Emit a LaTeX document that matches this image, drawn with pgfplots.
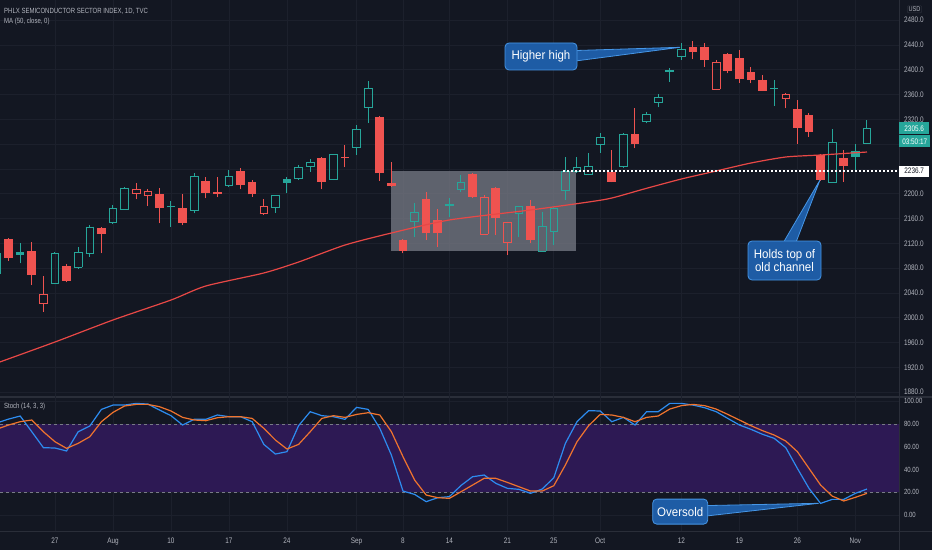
\documentclass[border=0pt]{standalone}
\usepackage{pgfplots}
\pgfplotsset{compat=1.18}
\usepackage{pgfplotstable}
\usepackage{fontspec}
\setmainfont{Liberation Sans}
\newfontfamily\tvfont{Liberation Sans}[FakeStretch=0.8]
\newfontfamily\callfont{Liberation Sans}[FakeStretch=0.92]

\definecolor{bg}{RGB}{19,23,34}
\definecolor{gridc}{RGB}{28,32,44}
\definecolor{sep}{RGB}{42,46,57}
\definecolor{upc}{RGB}{38,166,154}
\definecolor{dnc}{RGB}{239,83,80}
\definecolor{mac}{RGB}{232,72,70}
\definecolor{txt}{RGB}{178,181,190}
\definecolor{kc}{RGB}{45,140,240}
\definecolor{dc}{RGB}{240,116,46}
\definecolor{band}{RGB}{45,25,84}
\definecolor{boxg}{RGB}{124,127,138}
\definecolor{hlc}{RGB}{120,123,134}
\definecolor{callfill}{RGB}{30,92,165}
\definecolor{calldraw}{RGB}{70,150,230}

% hollow, close above previous close (green)
\pgfplotstableread{
i o h l c
-5 2072.3 2110.0 2068.0 2104.5
0 2056.1 2106.5 2054.0 2104.5
2 2081.9 2114.2 2078.7 2106.1
3 2104.5 2149.0 2098.6 2146.5
5 2154.5 2181.9 2151.3 2177.1
6 2175.5 2211.0 2174.0 2209.4
12 2172.8 2233.1 2168.6 2227.6
15 2213.7 2238.4 2211.5 2227.6
19 2177.6 2198.1 2169.5 2198.1
21 2225.0 2246.5 2222.3 2242.7
22 2243.7 2256.1 2235.7 2250.8
24 2223.9 2265.0 2222.0 2263.7
26 2275.0 2311.0 2262.6 2304.5
27 2339.5 2382.0 2314.7 2369.5
31 2156.1 2184.7 2130.8 2169.5
35 2207.3 2230.3 2203.4 2218.6
40 2168.6 2180.0 2130.8 2179.2
42 2107.8 2171.1 2106.5 2147.0
43 2140.0 2179.2 2117.4 2176.6
44 2206.1 2259.9 2190.0 2236.8
45 2235.7 2259.9 2234.5 2242.1
46 2231.9 2265.3 2230.3 2243.7
47 2279.8 2297.6 2266.3 2291.1
49 2243.7 2298.0 2242.0 2296.0
51 2316.3 2332.4 2313.7 2328.2
52 2347.0 2361.0 2339.5 2355.6
54 2421.1 2443.7 2415.8 2433.6
67 2218.6 2304.0 2217.5 2283.1
70 2281.5 2319.0 2280.5 2305.6
}\hu

% filled, green
\pgfplotstableread{
i o h l c
-3 2105.7 2120.2 2087.9 2101.3
10 2180.8 2188.4 2146.9 2178.2
20 2223.9 2227.6 2200.8 2217.9
34 2183.6 2192.7 2163.1 2180.8
53 2399.7 2403.4 2380.8 2397.0
62 2371.1 2383.6 2341.6 2369.0
69 2269.0 2280.3 2238.4 2259.9
}\fu

% hollow, red
\pgfplotstableread{
i o h l c
-1 2023.4 2067.4 2009.9 2037.9
7 2200.8 2216.9 2191.1 2207.8
8 2198.1 2207.8 2180.3 2204.5
18 2167.9 2191.6 2167.0 2180.3
37 2135.2 2198.1 2133.6 2193.7
39 2121.1 2155.0 2101.3 2154.0
57 2369.0 2415.8 2367.4 2412.1
63 2354.0 2362.1 2337.9 2360.5
}\hd

% filled, red
\pgfplotstableread{
i o h l c
-4 2127.1 2129.0 2092.0 2096.5
-2 2107.8 2122.8 2052.9 2069.0
1 2083.6 2086.0 2057.0 2059.4
4 2144.9 2147.0 2104.0 2135.2
9 2199.7 2208.9 2152.4 2177.6
11 2177.1 2199.7 2149.2 2153.4
13 2221.1 2227.6 2192.8 2201.8
14 2203.4 2227.6 2194.4 2199.7
16 2237.3 2241.1 2207.3 2213.7
17 2219.5 2222.3 2195.4 2199.2
23 2257.3 2259.4 2207.3 2219.5
25 2259.9 2278.7 2242.7 2257.8
28 2324.4 2325.5 2221.1 2233.0
29 2217.4 2251.8 2211.5 2212.6
30 2125.5 2127.0 2104.0 2107.8
32 2191.6 2203.4 2125.5 2136.3
33 2157.8 2175.5 2114.7 2136.3
36 2231.5 2233.0 2194.0 2195.4
38 2209.9 2211.5 2133.6 2160.5
41 2180.8 2190.0 2120.2 2125.5
48 2235.7 2270.7 2218.5 2219.5
50 2296.0 2337.9 2273.4 2280.3
55 2437.3 2447.0 2416.9 2429.2
56 2437.3 2443.7 2405.0 2415.8
58 2425.0 2426.6 2394.4 2398.6
59 2418.5 2432.0 2379.2 2384.7
60 2396.9 2405.0 2378.2 2383.6
61 2383.6 2391.6 2365.5 2366.3
64 2336.8 2351.3 2280.3 2306.6
65 2327.1 2329.8 2292.1 2300.2
66 2262.6 2264.0 2221.0 2222.3
68 2257.3 2270.7 2219.5 2245.3
}\fd

\pgfplotstableread{
i ma
-5 1927.1
0 1961.0
5 1996.5
10 2028.7
13 2051.3
18 2072.3
21 2090.0
25 2117.4
29 2136.8
34 2157.8
41 2173.9
46 2186.8
48 2193.2
51 2208.9
54 2223.9
57 2236.8
60 2249.7
63 2259.4
66 2262.6
68 2265.0
70 2267.4
}\ma

\pgfplotstableread{
i k d
-5 81.0 75.5
-4 84.3 79.1
-3 87.0 82.0
-2 73.2 83.5
-1 59.2 73.2
0 58.9 64.4
1 56.3 58.6
2 73.2 63.0
3 78.2 68.8
4 92.8 82.0
5 96.6 90.2
6 96.6 95.8
7 98.1 97.2
8 97.5 97.2
9 92.3 95.2
10 87.3 91.4
11 79.1 85.8
12 84.1 83.5
13 84.1 82.9
14 87.9 85.5
15 86.4 86.4
16 86.4 86.4
17 82.0 84.9
18 62.1 76.2
19 53.6 65.9
20 55.7 58.0
21 78.5 62.1
22 90.8 73.2
23 87.3 84.9
24 86.4 87.3
25 84.1 85.8
26 94.6 88.4
27 92.8 89.9
28 76.2 87.9
29 52.7 73.2
30 21.1 51.3
31 18.2 30.8
32 11.8 17.6
33 15.3 15.3
34 16.2 14.7
35 26.0 20.5
36 33.7 26.4
37 35.2 32.3
38 27.9 32.3
39 23.5 28.7
40 22.6 24.9
41 19.1 21.1
42 22.9 21.1
43 32.8 25.8
44 63.0 44.0
45 82.0 64.4
46 91.7 78.5
47 91.4 88.4
48 82.0 87.9
49 85.8 85.8
50 79.1 82.0
51 90.8 85.8
52 90.8 87.0
53 98.1 93.1
54 98.1 96.1
55 96.6 97.2
56 94.3 96.1
57 90.8 93.1
58 84.9 88.4
59 79.1 83.5
60 75.3 78.5
61 70.9 74.1
62 67.4 70.3
63 59.2 65.0
64 41.0 55.7
65 23.5 41.0
66 10.3 26.4
67 13.8 16.7
68 13.8 12.4
69 19.1 15.6
70 22.9 19.1
}\stoch

\pgfplotsset{
  eb/.style 2 args={draw=none, mark=none,
    error bars/y dir=plus, error bars/y explicit, error bars/error mark=none,
    error bars/error bar style={draw=#1, line width=#2, solid}},
  ebs/.style={draw=none, mark=none,
    error bars/y dir=plus, error bars/y explicit, error bars/error mark=none,
    error bars/error bar style={draw=#1, line width=0.9pt, solid, line cap=rect}},
  ebx/.style={draw=none, mark=none,
    error bars/x dir=both, error bars/x fixed=0.33, error bars/error mark=none,
    error bars/error bar style={draw=#1, line width=0.9pt, solid, line cap=rect}},
  tvaxis/.style={scale only axis, width=899pt,
    xmin=-4.741, xmax=72.76,
    axis line style={draw=none}, tick style={draw=none},
    xtick={0,5,10,15,20,26,30,34,39,43,47,54,59,64,69},
    xmajorgrids, ymajorgrids, grid style={gridc, line width=0.7pt},
    yticklabel pos=right,
    clip=false},
}
\tikzset{
  callbox/.style={fill=callfill, draw=calldraw, line width=0.8pt, rounded corners=4pt,
    text=white, font=\callfont\fontsize{12.5}{12.5}\selectfont, inner sep=0pt, align=center},
}

\begin{document}
\begin{tikzpicture}
\useasboundingbox (0pt,0pt) rectangle (932pt,550pt);
\clip (0pt,0pt) rectangle (932pt,550pt);
\fill[bg] (0pt,0pt) rectangle (932pt,550pt);
\draw[sep, line width=1.5pt] (0pt,153pt) -- (932pt,153pt);
\draw[sep, line width=0.8pt] (0pt,19pt) -- (932pt,19pt);
\draw[sep, line width=0.8pt] (899pt,0pt) -- (899pt,550pt);

% ---------------- main price pane ----------------
\begin{axis}[tvaxis, height=396pt, at={(0pt,550pt)}, anchor=north west,
  ymin=1873.9, ymax=2512.6,
  xticklabels={},
  ytick={1880,1920,1960,2000,2040,2080,2120,2160,2200,2320,2360,2400,2440,2480},
  extra y ticks={2240,2280}, extra y tick labels={},
  extra y tick style={grid=major},
  yticklabel style={font=\tvfont\fontsize{8}{8}\selectfont, text=txt, anchor=west, xshift=1.5pt,
    /pgf/number format/.cd, fixed, fixed zerofill, precision=1, 1000 sep={}, assume math mode=true},
]
\addplot[fill=boxg, fill opacity=0.72, draw=none] coordinates {(28.94,2107.2) (44.9,2107.2) (44.9,2236.8) (28.94,2236.8)} -- cycle;

% filled red
\addplot[eb={dnc}{1pt}] table[x=i, y=l, y error plus expr=\thisrow{h}-\thisrow{l}] {\fd};
\addplot[eb={dnc}{8.6pt}] table[x=i, y=c, y error plus expr={max(\thisrow{o}-\thisrow{c},1.6)}] {\fd};
% filled green
\addplot[eb={upc}{1pt}] table[x=i, y=l, y error plus expr=\thisrow{h}-\thisrow{l}] {\fu};
\addplot[eb={upc}{8.6pt}] table[x=i, y=c, y error plus expr={max(\thisrow{o}-\thisrow{c},1.6)}] {\fu};
% hollow green
\addplot[eb={upc}{1pt}] table[x=i, y=c, y error plus expr=\thisrow{h}-\thisrow{c}] {\hu};
\addplot[eb={upc}{1pt}] table[x=i, y=l, y error plus expr=\thisrow{o}-\thisrow{l}] {\hu};
\addplot[ebs=upc] table[x expr=\thisrow{i}-0.33, y=o, y error plus expr=\thisrow{c}-\thisrow{o}] {\hu};
\addplot[ebs=upc] table[x expr=\thisrow{i}+0.33, y=o, y error plus expr=\thisrow{c}-\thisrow{o}] {\hu};
\addplot[ebx=upc] table[x=i, y=o] {\hu};
\addplot[ebx=upc] table[x=i, y=c] {\hu};
% hollow red
\addplot[eb={dnc}{1pt}] table[x=i, y=c, y error plus expr=\thisrow{h}-\thisrow{c}] {\hd};
\addplot[eb={dnc}{1pt}] table[x=i, y=l, y error plus expr=\thisrow{o}-\thisrow{l}] {\hd};
\addplot[ebs=dnc] table[x expr=\thisrow{i}-0.33, y=o, y error plus expr=\thisrow{c}-\thisrow{o}] {\hd};
\addplot[ebs=dnc] table[x expr=\thisrow{i}+0.33, y=o, y error plus expr=\thisrow{c}-\thisrow{o}] {\hd};
\addplot[ebx=dnc] table[x=i, y=o] {\hd};
\addplot[ebx=dnc] table[x=i, y=c] {\hd};

% moving average
\addplot[mac, line width=1.2pt, smooth, tension=0.4] table[x=i, y=ma] {\ma};

% last-touch level
\addplot[white, line width=1.7pt, dash pattern=on 1.7pt off 2.3pt] coordinates {(43.8,2236.7) (72.76,2236.7)};

% price scale labels
\node[fill=upc, text=white, font=\tvfont\fontsize{8}{8}\selectfont, anchor=west, inner sep=0pt, minimum width=30pt, minimum height=12pt] at (axis cs:72.76,2305.6) {2305.6};
\node[fill=upc, text=white, font=\tvfont\fontsize{8}{8}\selectfont, anchor=west, inner sep=0pt, minimum width=31pt, minimum height=12pt] at (axis cs:72.76,2284.4) {03:50:17};
\node[fill=white, text=bg, font=\tvfont\fontsize{8}{8}\selectfont, anchor=west, inner sep=0pt, minimum width=30pt, minimum height=11pt] at (axis cs:72.76,2236.7) {2236.7};
\end{axis}

% ---------------- stochastic pane ----------------
\begin{axis}[tvaxis, height=135pt, at={(0pt,19pt)}, anchor=south west,
  ymin=-13.96, ymax=104.57,
  xticklabels={27,Aug,10,17,24,Sep,8,14,21,25,Oct,12,19,26,Nov},
  xticklabel style={font=\tvfont\fontsize{8}{8}\selectfont, text=txt, yshift=-3pt},
  ytick={0,20,40,60,80,100},
  yticklabel style={font=\tvfont\fontsize{7.5}{7.5}\selectfont, text=txt, anchor=west, xshift=1.5pt,
    /pgf/number format/.cd, fixed, fixed zerofill, precision=2, 1000 sep={}, assume math mode=true},
]
\addplot[fill=band, draw=none] coordinates {(-4.741,20) (72.76,20) (72.76,80) (-4.741,80)} -- cycle;
\addplot[hlc, line width=0.7pt, dash pattern=on 3pt off 3pt] coordinates {(-4.741,80) (72.76,80)};
\addplot[hlc, line width=0.7pt, dash pattern=on 3pt off 3pt] coordinates {(-4.741,20) (72.76,20)};
\addplot[kc, line width=1.2pt] table[x=i, y=k] {\stoch};
\addplot[dc, line width=1.2pt] table[x=i, y=d] {\stoch};
\end{axis}

% ---------------- texts and callouts ----------------
\node[anchor=west, text=txt, font=\tvfont\fontsize{7.5}{7.5}\selectfont, inner sep=0pt] at (4pt,539pt) {PHLX SEMICONDUCTOR SECTOR INDEX, 1D, TVC};
\node[anchor=west, text=txt, font=\tvfont\fontsize{7.5}{7.5}\selectfont, inner sep=0pt] at (4pt,528pt) {MA (50, close, 0)};
\node[anchor=west, text=txt, font=\tvfont\fontsize{7.5}{7.5}\selectfont, inner sep=0pt] at (4pt,143pt) {Stoch (14, 3, 3)};
\node[draw=sep, text=txt, font=\tvfont\fontsize{7}{7}\selectfont, inner sep=1.2pt, rounded corners=1pt] at (914.5pt,540.8pt) {USD};

\filldraw[fill=callfill, draw=calldraw, line width=0.8pt] (570pt,499.3pt) -- (680pt,502.7pt) -- (570pt,488.3pt) -- cycle;
\node[callbox, minimum width=72pt, minimum height=27pt] at (541pt,493.5pt) {Higher high};

\filldraw[fill=callfill, draw=calldraw, line width=0.8pt] (779pt,300pt) -- (820pt,370pt) -- (793pt,300pt) -- cycle;
\node[callbox, minimum width=73pt, minimum height=39pt] at (784.5pt,289.5pt) {Holds top of\\old channel};

\filldraw[fill=callfill, draw=calldraw, line width=0.8pt] (700pt,44.3pt) -- (818.7pt,46.7pt) -- (700pt,33.3pt) -- cycle;
\node[callbox, minimum width=55pt, minimum height=25pt] at (680.2pt,38.4pt) {Oversold};
\end{tikzpicture}
\end{document}
